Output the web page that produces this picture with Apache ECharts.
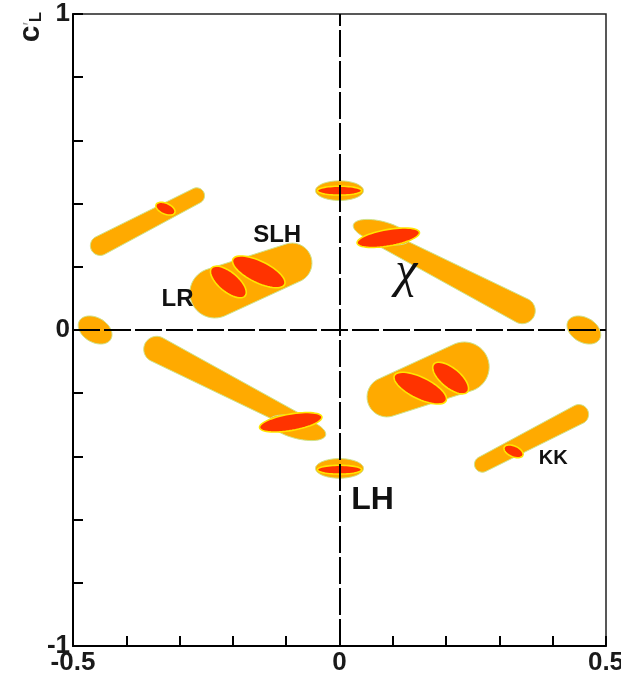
<!DOCTYPE html>
<html>
<head>
<meta charset="utf-8">
<script src="https://cdn.jsdelivr.net/npm/echarts/dist/echarts.min.js"></script>
<style>
  html, body { margin: 0; padding: 0; background: #fff; }
  #main { width: 621px; height: 681px; }
</style>
</head>
<body>
<div id="main"></div>
<script>
// tick labels that are written on the axes
var xTickLabels = [-0.5, 0, 0.5];
var yTickLabels = [-1, 0, 1];

// orange regions, tube shaped: [x1, y1, x2, y2, halfWidth1, halfWidth2] (half widths in y units)
var orangeTubes = [
  [-0.449, 0.267, -0.268, 0.425, 0.031, 0.025],
  [-0.234, 0.117, -0.089, 0.212, 0.079, 0.063],
  [0.066, 0.302, 0.343, 0.061, 0.026, 0.041],
  [-0.343, -0.061, -0.066, -0.302, 0.041, 0.026],
  [0.234, -0.117, 0.089, -0.212, 0.079, 0.063],
  [0.449, -0.267, 0.268, -0.425, 0.031, 0.025]
];

// orange regions, elliptic: [x1, y1, x2, y2, halfWidth] (major axis ends)
var orangeOvals = [
  [-0.488, 0.029, -0.429, -0.029, 0.039],
  [0.429, 0.029, 0.488, -0.029, 0.039],
  [-0.045, 0.441, 0.045, 0.441, 0.031],
  [-0.045, -0.438, 0.045, -0.438, 0.031],
  [0.026, 0.333, 0.132, 0.286, 0.034],
  [-0.132, -0.286, -0.026, -0.333, 0.034]
];

// red regions: [x1, y1, x2, y2, halfWidth]
var redOvals = [
  [-0.344, 0.397, -0.309, 0.371, 0.017],
  [0.309, -0.371, 0.344, -0.397, 0.017],
  [-0.240, 0.196, -0.177, 0.108, 0.031],
  [-0.200, 0.224, -0.103, 0.144, 0.034],
  [0.103, -0.144, 0.200, -0.224, 0.034],
  [0.177, -0.108, 0.240, -0.196, 0.031],
  [-0.0415, 0.441, 0.0415, 0.441, 0.014],
  [-0.0415, -0.442, 0.0415, -0.442, 0.014],
  [0.033, 0.275, 0.150, 0.309, 0.026],
  [-0.150, -0.309, -0.033, -0.275, 0.026]
];

// model names
var modelLabels = [
  [-0.117, 0.298, 'SLH'],
  [-0.304, 0.098, 'LR'],
  [0.125, 0.180, 'χ'],
  [0.062, -0.540, 'LH'],
  [0.401, -0.406, 'KK']
];

var labelFonts = {
  'SLH': 'bold 24px "Liberation Sans", Arial, sans-serif',
  'LR': 'bold 24px "Liberation Sans", Arial, sans-serif',
  'χ': 'italic 50px "Liberation Serif", "DejaVu Serif", serif',
  'LH': 'bold 32px "Liberation Sans", Arial, sans-serif',
  'KK': 'bold 20px "Liberation Sans", Arial, sans-serif'
};

var tickFont = '"Liberation Sans", Arial, sans-serif';

function isTick(list, v) {
  for (var i = 0; i < list.length; i++) {
    if (Math.abs(list[i] - v) < 1e-9) return true;
  }
  return false;
}

// outline of a tube with round ends
function tubePoints(api, r) {
  var p1 = api.coord([r[0], r[1]]);
  var p2 = api.coord([r[2], r[3]]);
  var w1 = api.size([0, r[4]])[1];
  var w2 = api.size([0, r[5]])[1];
  var a = Math.atan2(p2[1] - p1[1], p2[0] - p1[0]);
  var pts = [];
  var n = 24;
  for (var i = 0; i <= n; i++) {
    var t = a - Math.PI / 2 + Math.PI * i / n;
    pts.push([p2[0] + w2 * Math.cos(t), p2[1] + w2 * Math.sin(t)]);
  }
  for (var j = 0; j <= n; j++) {
    var s = a + Math.PI / 2 + Math.PI * j / n;
    pts.push([p1[0] + w1 * Math.cos(s), p1[1] + w1 * Math.sin(s)]);
  }
  return pts;
}

// outline of an ellipse given by its major axis ends
function ovalPoints(api, r) {
  var p1 = api.coord([r[0], r[1]]);
  var p2 = api.coord([r[2], r[3]]);
  var b = api.size([0, r[4]])[1];
  var cx = (p1[0] + p2[0]) / 2, cy = (p1[1] + p2[1]) / 2;
  var dx = p2[0] - p1[0], dy = p2[1] - p1[1];
  var a = Math.sqrt(dx * dx + dy * dy) / 2;
  var ang = Math.atan2(dy, dx);
  var ca = Math.cos(ang), sa = Math.sin(ang);
  var pts = [];
  for (var i = 0; i < 60; i++) {
    var t = 2 * Math.PI * i / 60;
    var u = a * Math.cos(t), v = b * Math.sin(t);
    pts.push([cx + u * ca - v * sa, cy + u * sa + v * ca]);
  }
  return pts;
}

var orangeStyle = { fill: '#FFAA00', stroke: '#CFE38A', lineWidth: 1 };
var redStyle = { fill: '#FF3300', stroke: '#FFE600', lineWidth: 1.6 };

var chart = echarts.init(document.getElementById('main'), null, { renderer: 'canvas' });

var option = {
  animation: false,
  backgroundColor: '#fff',
  grid: {
    left: 73, right: 15, top: 14, bottom: 35,
    containLabel: false,
    outerBoundsMode: 'none',
    show: true,
    borderColor: '#222',
    borderWidth: 1.5
  },
  xAxis: {
    type: 'value',
    min: -0.5, max: 0.5, interval: 0.1,
    axisLine: { show: true, onZero: false, lineStyle: { color: '#000', width: 2 } },
    axisTick: { show: true, inside: true, length: 10, lineStyle: { color: '#000', width: 2 } },
    splitLine: { show: false },
    axisLabel: {
      show: true, margin: 4, color: '#1a1a1a',
      fontFamily: tickFont, fontWeight: 'bold', fontSize: 26,
      showMinLabel: true, showMaxLabel: true, hideOverlap: false,
      formatter: function (v) { return isTick(xTickLabels, v) ? String(+v.toFixed(1)) : ''; }
    }
  },
  yAxis: {
    type: 'value',
    min: -1, max: 1, interval: 0.2,
    axisLine: { show: true, onZero: false, lineStyle: { color: '#000', width: 2 } },
    axisTick: { show: true, inside: true, length: 10, lineStyle: { color: '#000', width: 2 } },
    splitLine: { show: false },
    axisLabel: {
      show: true, margin: 3, color: '#1a1a1a',
      fontFamily: tickFont, fontWeight: 'bold', fontSize: 26,
      showMinLabel: true, showMaxLabel: true, hideOverlap: false,
      formatter: function (v) { return isTick(yTickLabels, v) ? String(Math.round(v)) : ''; }
    }
  },
  graphic: [{
    type: 'text',
    x: 31, y: 27,
    rotation: Math.PI / 2,
    style: {
      text: '{c|c}{p|′}{s|L}',
      align: 'center',
      verticalAlign: 'middle',
      rich: {
        c: { fontSize: 30, fontWeight: 'bold', fontFamily: 'Liberation Sans, sans-serif', fill: '#1a1a1a' },
        p: { fontSize: 18, fontFamily: 'Liberation Sans, sans-serif', fill: '#999' },
        s: { fontSize: 17, fontWeight: 'bold', fontFamily: 'Liberation Sans, sans-serif', fill: '#1a1a1a', padding: [10, 0, 0, 0] }
      }
    }
  }],
  series: [
    {
      name: 'orange tubes',
      type: 'custom',
      data: orangeTubes.map(function (r) { return [r[0], r[1], r[2], r[3]]; }),
      encode: { x: [0, 2], y: [1, 3] },
      renderItem: function (params, api) {
        return { type: 'polygon', shape: { points: tubePoints(api, orangeTubes[params.dataIndex]) }, style: orangeStyle };
      }
    },
    {
      name: 'orange ovals',
      type: 'custom',
      data: orangeOvals.map(function (r) { return [r[0], r[1], r[2], r[3]]; }),
      encode: { x: [0, 2], y: [1, 3] },
      renderItem: function (params, api) {
        return { type: 'polygon', shape: { points: ovalPoints(api, orangeOvals[params.dataIndex]) }, style: orangeStyle };
      }
    },
    {
      name: 'red ovals',
      type: 'custom',
      data: redOvals.map(function (r) { return [r[0], r[1], r[2], r[3]]; }),
      encode: { x: [0, 2], y: [1, 3] },
      renderItem: function (params, api) {
        return { type: 'polygon', shape: { points: ovalPoints(api, redOvals[params.dataIndex]) }, style: redStyle };
      }
    },
    {
      name: 'zero lines',
      type: 'line',
      data: [],
      z: 5,
      markLine: {
        silent: true,
        symbol: 'none',
        label: { show: false },
        lineStyle: { color: '#000', width: 2, type: [27, 4] },
        data: [{ xAxis: 0 }, { yAxis: 0 }]
      }
    },
    {
      name: 'labels',
      type: 'custom',
      z: 6,
      data: modelLabels.map(function (l) { return [l[0], l[1]]; }),
      encode: { x: 0, y: 1 },
      renderItem: function (params, api) {
        var l = modelLabels[params.dataIndex];
        var p = api.coord([l[0], l[1]]);
        return {
          type: 'text',
          x: p[0], y: p[1],
          style: { text: l[2], font: labelFonts[l[2]], fill: '#111', align: 'center', verticalAlign: 'middle' }
        };
      }
    }
  ]
};

chart.setOption(option);
</script>
</body>
</html>
